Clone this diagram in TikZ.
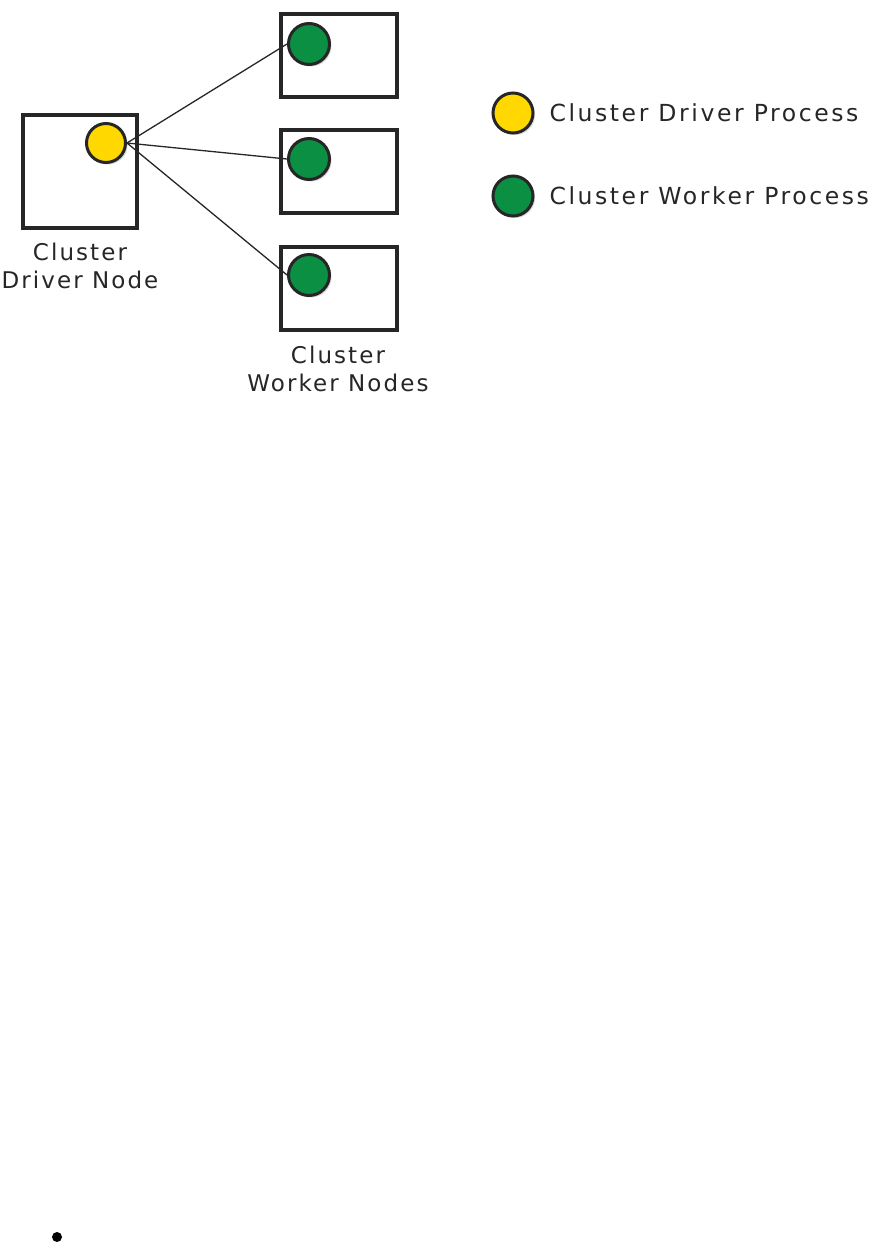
\documentclass[tikz,border=0pt]{standalone}
\usepackage{fontspec}
\setmainfont{DejaVu Sans}
\newfontfamily\sketchfont[LetterSpace=9]{DejaVu Sans}
\newfontfamily\keyfont[LetterSpace=11]{DejaVu Sans}
\usepackage{tikz}
\usetikzlibrary{shadows}
\definecolor{ink}{HTML}{262626}
\definecolor{procyellow}{HTML}{FFD800}
\definecolor{procgreen}{HTML}{0B8F43}
\tikzset{
  machine/.style={rectangle, draw=ink, line width=4pt, fill=white, drop shadow={shadow xshift=2pt, shadow yshift=-2pt, opacity=0.25}},
  proc/.style={circle, draw=ink, line width=3pt, inner sep=0pt, minimum size=39pt, drop shadow={shadow xshift=2pt, shadow yshift=-2pt, opacity=0.3}},
  link/.style={draw=ink, line width=1.3pt},
  caption/.style={align=center, text=ink, font=\sketchfont\fontsize{23}{28}\selectfont}
}

\begin{document}
\begin{tikzpicture}[x=1pt, y=-1pt,
  drvbox/.style={machine, minimum width=114pt, minimum height=113pt},
  wrkbox/.style={machine, minimum width=116pt, minimum height=83pt},
  drvproc/.style={proc, fill=procyellow},
  wrkproc/.style={proc, fill=procgreen, minimum size=41pt},
  keytext/.style={caption, anchor=west, font=\keyfont\fontsize{23.5}{28}\selectfont}
]
  \useasboundingbox (0,0) rectangle (889,1243);

  \node[drvbox] (driver) at (80,171.5) {};
  \node[wrkbox] (worker1) at (339,55.5) {};
  \node[wrkbox] (worker2) at (339,171.5) {};
  \node[wrkbox] (worker3) at (339,288) {};

  \node[drvproc] (dproc) at (106,143) {};
  \node[wrkproc] (wproc1) at (309,44) {};
  \node[wrkproc] (wproc2) at (309,159) {};
  \node[wrkproc] (wproc3) at (309,275) {};

  \draw[link] (dproc.east) -- (wproc1.west);
  \draw[link] (dproc.east) -- (wproc2.west);
  \draw[link] (dproc.east) -- (wproc3.west);

  \node[caption] (driverlbl) at (80,266) {Cluster\\Driver Node};
  \node[caption] (workerlbl) at (338,369) {Cluster\\Worker Nodes};

  \node[drvproc, minimum size=40pt] (keydriver) at (513,113) {};
  \node[wrkproc, minimum size=40pt] (keyworker) at (513,196) {};
  \node[keytext] (keydriverlbl) at (546,113) {Cluster Driver Process};
  \node[keytext] (keyworkerlbl) at (546,196) {Cluster Worker Process};

  \node[circle, fill=black, inner sep=0pt, minimum size=10pt] (dot) at (57,1237) {};
\end{tikzpicture}
\end{document}
